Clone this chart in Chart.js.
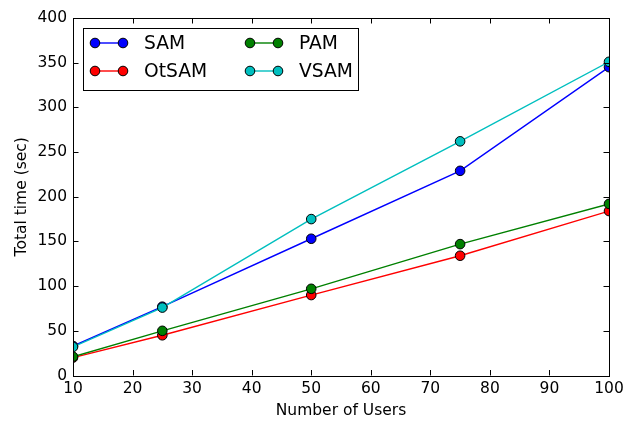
<!DOCTYPE html>
<html>
<head>
<meta charset="utf-8">
<style>
  html, body { margin: 0; padding: 0; background: #fff; }
  #wrap { width: 641px; height: 425px; position: relative; }
</style>
<script src="https://cdn.jsdelivr.net/npm/chart.js@4/dist/chart.umd.min.js"></script>
</head>
<body>
<div id="wrap"><canvas id="chart" width="641" height="425"></canvas></div>
<script>
// --- data ---
const users = [10, 25, 50, 75, 100];
const sam   = [33, 77, 153, 229, 345];
const otsam = [20, 45, 90, 134, 184];
const pam   = [21, 50, 97, 147, 192];
const vsam  = [32, 76, 175, 262, 351];
const xTicks = [10, 20, 30, 40, 50, 60, 70, 80, 90, 100];
const yTicks = [0, 50, 100, 150, 200, 250, 300, 350, 400];

const FONT = "'DejaVu Sans', sans-serif";

const series = [
    { label: 'SAM',   data: sam,   color: '#0000ff' },
    { label: 'OtSAM', data: otsam, color: '#ff0000' },
    { label: 'PAM',   data: pam,   color: '#008000' },
    { label: 'VSAM',  data: vsam,  color: '#00bfbf' }
];

// frame, inward ticks, axis titles and the boxed legend
const framePlugin = {
    id: 'frame',
    beforeDatasetsDraw(chart) {
        // markers at the edges get cut by the axes box
        const { ctx, chartArea: a } = chart;
        ctx.save();
        ctx.beginPath();
        ctx.rect(a.left, a.top, a.right - a.left, a.bottom - a.top);
        ctx.clip();
    },
    afterDatasetsDraw(chart) {
        const { ctx, chartArea: a, scales } = chart;
        ctx.restore();
        const tick = 5.5;
        ctx.save();
        ctx.strokeStyle = '#000';
        ctx.lineWidth = 1;
        ctx.beginPath();
        xTicks.forEach(v => {
            const x = Math.round(scales.x.getPixelForValue(v)) + 0.5;
            ctx.moveTo(x, a.bottom); ctx.lineTo(x, a.bottom - tick);
            ctx.moveTo(x, a.top); ctx.lineTo(x, a.top + tick);
        });
        yTicks.forEach(v => {
            const y = Math.round(scales.y.getPixelForValue(v)) + 0.5;
            ctx.moveTo(a.left, y); ctx.lineTo(a.left + tick, y);
            ctx.moveTo(a.right, y); ctx.lineTo(a.right - tick, y);
        });
        ctx.stroke();
        ctx.strokeRect(Math.round(a.left) + 0.5, Math.round(a.top) + 0.5,
                       Math.round(a.right - a.left), Math.round(a.bottom - a.top));

        // axis titles
        ctx.fillStyle = '#000';
        ctx.font = `15.5px ${FONT}`;
        ctx.textAlign = 'center';
        ctx.textBaseline = 'middle';
        ctx.fillText('Number of Users', (a.left + a.right) / 2, 411);
        ctx.save();
        ctx.translate(22, (a.top + a.bottom) / 2);
        ctx.rotate(-Math.PI / 2);
        ctx.fillText('Total time (sec)', 0, 0);
        ctx.restore();

        // legend, two columns
        ctx.fillStyle = '#fff';
        ctx.fillRect(83.5, 28.5, 275, 62);
        ctx.strokeRect(83.5, 28.5, 275, 62);
        const cols = [95, 250];
        const rows = [43, 71];
        ctx.font = `18.7px ${FONT}`;
        ctx.textAlign = 'left';
        series.forEach((s, i) => {
            const x0 = cols[Math.floor(i / 2)];
            const y = rows[i % 2];
            ctx.strokeStyle = s.color;
            ctx.lineWidth = 1.4;
            ctx.beginPath();
            ctx.moveTo(x0, y); ctx.lineTo(x0 + 28, y);
            ctx.stroke();
            [x0, x0 + 28].forEach(cx => {
                ctx.beginPath();
                ctx.arc(cx, y, 4.8, 0, Math.PI * 2);
                ctx.fillStyle = s.color;
                ctx.fill();
                ctx.strokeStyle = '#000';
                ctx.lineWidth = 1;
                ctx.stroke();
            });
            ctx.fillStyle = '#000';
            ctx.fillText(s.label, x0 + 49, y + 1);
        });
        ctx.restore();
    }
};

new Chart(document.getElementById('chart'), {
    type: 'line',
    data: {
        datasets: series.map((s, i) => ({
            label: s.label,
            data: users.map((u, j) => ({ x: u, y: s.data[j] })),
            borderColor: s.color,
            backgroundColor: s.color,
            pointBackgroundColor: s.color,
            pointBorderColor: '#000',
            pointBorderWidth: 1,
            pointRadius: 4.8,
            borderWidth: 1.4,
            tension: 0,
            fill: false,
            clip: 0,
            order: series.length - 1 - i
        }))
    },
    options: {
        responsive: false,
        animation: false,
        layout: { padding: { top: 18, right: 32, left: 0, bottom: 0 } },
        plugins: { legend: { display: false }, tooltip: { enabled: false } },
        scales: {
            x: {
                type: 'linear',
                min: 10, max: 100,
                afterFit: s => { s.height = 49.5; },
                afterBuildTicks: s => { s.ticks = xTicks.map(v => ({ value: v })); },
                grid: { display: false, drawTicks: false },
                border: { display: false },
                ticks: { color: '#000', padding: 4, maxRotation: 0, autoSkip: false,
                         font: { family: FONT, size: 15.5 } }
            },
            y: {
                type: 'linear',
                min: 0, max: 400,
                afterFit: s => { s.width = 73; },
                afterBuildTicks: s => { s.ticks = yTicks.map(v => ({ value: v })); },
                grid: { display: false, drawTicks: false },
                border: { display: false },
                ticks: { color: '#000', padding: 6, autoSkip: false,
                         font: { family: FONT, size: 15.5 } }
            }
        }
    },
    plugins: [framePlugin]
});
</script>
</body>
</html>
